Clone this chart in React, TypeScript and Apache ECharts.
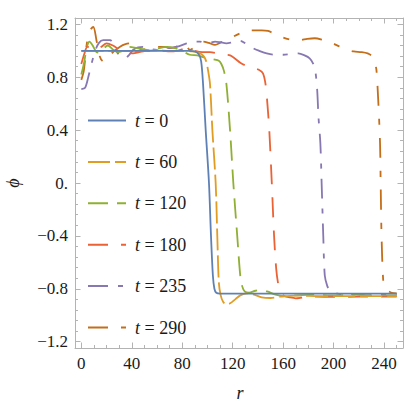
import React, { useEffect, useRef } from "react";
import * as echarts from "echarts";

// ---- data (r, phi) ----
const t0: [number, number][] = [
  [0, 1.0], [85, 1.0], [90, 0.995], [93, 0.975], [95, 0.92], [96.5, 0.75], [98.6, 0.4],
  [101.2, 0.0], [102.8, -0.4], [104.3, -0.7], [105.5, -0.8], [107, -0.83], [110, -0.837], [250, -0.837],
];
const t60: [number, number][] = [
  [0, 1.0], [20, 1.0], [30, 1.0], [40, 0.997], [50, 1.0], [60, 1.004], [70, 1.0], [80, 1.0],
  [88, 0.995], [93, 0.985], [97, 0.96], [99, 0.92], [100.5, 0.85], [102, 0.75], [103.9, 0.4],
  [106.5, 0.0], [107.8, -0.4], [109, -0.75], [110.5, -0.85], [112.5, -0.9], [115, -0.918],
  [118, -0.91], [122, -0.88], [126, -0.85], [131, -0.835], [137, -0.845], [143, -0.865],
  [150, -0.87], [158, -0.86], [170, -0.852], [190, -0.855], [220, -0.855], [250, -0.855],
];
const t120: [number, number][] = [
  [0, 0.82], [2, 0.9], [4.5, 1.03], [6.5, 1.07], [9, 1.04], [12, 0.99], [15, 0.985], [18, 1.02],
  [21, 1.04], [25, 1.01], [29, 0.99], [33, 1.0], [38, 1.03], [44, 1.02], [50, 1.01], [56, 1.0],
  [62, 1.02], [68, 1.03], [74, 1.02], [80, 1.0], [86, 0.97], [92, 0.965], [99, 0.945], [105, 0.935],
  [109, 0.925], [111, 0.9], [113, 0.85], [115, 0.75], [117.9, 0.4], [120.5, 0.0], [123.6, -0.4],
  [126, -0.7], [127.5, -0.78], [129.5, -0.82], [133, -0.83], [138, -0.815], [143, -0.81],
  [148, -0.822], [154, -0.845], [160, -0.855], [170, -0.85], [185, -0.845], [200, -0.85],
  [215, -0.845], [230, -0.85], [250, -0.85],
];
const t180: [number, number][] = [
  [0, 0.9], [2.5, 0.98], [4.8, 1.03], [8, 1.02], [12.2, 1.006], [16, 1.03], [20, 1.056], [25, 1.04],
  [30.7, 1.006], [36, 0.99], [41, 0.98], [46, 0.99], [52, 1.0], [58, 0.995], [64, 1.0], [70, 0.995],
  [76, 1.0], [84, 1.02], [90, 1.0], [96, 0.99], [102, 0.99], [108, 0.98], [114, 0.97], [118, 0.965],
  [122, 0.94], [126, 0.91], [130, 0.89], [136, 0.87], [141, 0.855], [144, 0.83], [146, 0.75],
  [147.5, 0.6], [149, 0.4], [151, 0.0], [152.8, -0.4], [154.5, -0.65], [156, -0.76], [158, -0.83],
  [161, -0.855], [165, -0.865], [170, -0.872], [176, -0.865], [185, -0.86], [200, -0.862],
  [220, -0.86], [250, -0.86],
];
const t235: [number, number][] = [
  [0, 0.71], [3, 0.72], [5.5, 0.8], [8.2, 0.905], [11, 1.0], [14, 1.06], [17.4, 1.08], [22.8, 1.08],
  [26, 1.04], [29, 0.98], [34.6, 0.943], [38, 0.97], [41, 1.006], [45, 1.025], [49, 1.03], [54, 1.015],
  [60, 1.006], [68, 1.02], [75.6, 1.03], [83.5, 1.056], [88, 1.07], [94, 1.07], [98, 1.06], [102, 1.06],
  [106, 1.07], [110, 1.065], [115, 1.056], [120, 1.065], [125.8, 1.076], [131, 1.05], [136, 1.02],
  [141, 1.0], [147, 0.98], [153, 0.97], [160, 0.97], [166, 0.975], [172, 0.98], [177, 0.965],
  [181, 0.943], [184, 0.9], [185.5, 0.85], [187, 0.7], [188, 0.5], [189.5, 0.3], [190.5, 0.0],
  [191.8, -0.4], [193, -0.7], [195, -0.78], [197, -0.81], [202, -0.835], [210, -0.845],
  [218, -0.84], [226, -0.85], [235, -0.845], [250, -0.845],
];
const t290: [number, number][] = [
  [0, 0.78], [2, 0.85], [4.3, 1.05], [6.5, 1.15], [9.5, 1.18], [12, 1.08], [14.5, 0.96], [17.4, 0.92],
  [20, 0.93], [24, 0.98], [30.7, 1.03], [35, 1.05], [40, 1.057], [44, 1.02], [46.5, 1.006], [50, 1.01],
  [54.5, 1.02], [62.4, 1.03], [66, 1.03], [70, 1.02], [75, 1.03], [81, 1.056], [84, 1.03], [86, 1.006],
  [90, 1.03], [96.7, 1.07], [101, 1.06], [106, 1.044], [111, 1.065], [115, 1.08], [121, 1.11],
  [128, 1.14], [133, 1.155], [138, 1.155], [143, 1.155], [148, 1.15], [153, 1.13], [160, 1.1],
  [166, 1.085], [173, 1.08], [179, 1.09], [185, 1.095], [192, 1.08], [198.5, 1.06], [204, 1.035],
  [210, 1.01], [216, 0.995], [222, 0.99], [227, 0.98], [231, 0.955], [233, 0.9], [234, 0.85],
  [235.5, 0.6], [236.8, 0.3], [237.3, 0.0], [238, -0.4], [239.4, -0.75], [241, -0.8], [242, -0.81],
  [246, -0.83], [250, -0.835],
];

const seriesNames = ["0", "60", "120", "180", "235", "290"];
const seriesData = [t0, t60, t120, t180, t235, t290];
const colors = ["#5E81B5", "#E19C24", "#8FB032", "#EB6235", "#8778B3", "#C56E1A"];
const dashes: (string | number[])[] = ["solid", [22, 5], [20, 9], [20, 13], [20, 10, 5, 10], [20, 13, 6, 13]];

const xMajor = [0, 40, 80, 120, 160, 200, 240];
const xMinor = [10, 20, 30, 50, 60, 70, 90, 100, 110, 130, 140, 150, 170, 180, 190, 210, 220, 230, 250];
const yMajor = [-1.2, -0.8, -0.4, 0, 0.4, 0.8, 1.2];
const yMajorLabels = ["\u22121.2", "\u22120.8", "\u22120.4", "0.", "0.4", "0.8", "1.2"];
const yMinor = [
  -1.12, -1.04, -0.96, -0.88, -0.72, -0.64, -0.56, -0.48, -0.32, -0.24, -0.16, -0.08,
  0.08, 0.16, 0.24, 0.32, 0.48, 0.56, 0.64, 0.72, 0.88, 0.96, 1.04, 1.12,
];

const FONT = "Liberation Serif";
const FRAME = "#b3b3b3";
const TXT = "#1a1a1a";

export default function App() {
  const ref = useRef<HTMLDivElement>(null);
  useEffect(() => {
    if (!ref.current) return;
    const chart = echarts.init(ref.current, undefined, { renderer: "svg" });
    const xMin = -5, xMax = 255, yMin = -1.248, yMax = 1.248;
    const xAx = (pos: string, major: boolean, labels: boolean) => ({
      type: "value", min: xMin, max: xMax, position: pos,
      axisLine: { show: major, onZero: false, lineStyle: { color: FRAME, width: 1 } },
      axisTick: { show: true, inside: true, length: major ? 5.5 : 3, customValues: major ? xMajor : xMinor, lineStyle: { color: FRAME } },
      axisLabel: labels
        ? { show: true, customValues: xMajor, color: TXT, fontFamily: FONT, fontSize: 17, margin: 7 }
        : { show: false },
      splitLine: { show: false },
    });
    const yAx = (pos: string, major: boolean, labels: boolean) => ({
      type: "value", min: yMin, max: yMax, position: pos,
      axisLine: { show: major, onZero: false, lineStyle: { color: FRAME, width: 1 } },
      axisTick: { show: true, inside: true, length: major ? 5.5 : 3, customValues: major ? yMajor : yMinor, lineStyle: { color: FRAME } },
      axisLabel: labels
        ? {
            show: true, customValues: yMajor, color: TXT, fontFamily: FONT, fontSize: 17, margin: 7,
            formatter: (v: number) => {
              const i = yMajor.findIndex((m) => Math.abs(m - v) < 1e-6);
              return i >= 0 ? yMajorLabels[i] : "";
            },
          }
        : { show: false },
      splitLine: { show: false },
    });
    chart.setOption({
      animation: false,
      textStyle: { fontFamily: FONT },
      grid: { left: 75, right: 5, top: 18, bottom: 61, containLabel: false },
      xAxis: [xAx("bottom", true, true), xAx("bottom", false, false), xAx("top", true, false), xAx("top", false, false)],
      yAxis: [yAx("left", true, true), yAx("left", false, false), yAx("right", true, false), yAx("right", false, false)],
      legend: {
        orient: "vertical", left: 82, top: 105.5, itemWidth: 38, itemHeight: 20, itemGap: 21.4,
        itemStyle: { opacity: 0 },
        data: seriesNames.map((n) => "t = " + n),
        formatter: (name: string) => "{i|t} = " + name.slice(4),
        textStyle: {
          fontFamily: FONT, fontSize: 18, color: TXT, lineHeight: 20, padding: [0, 0, 0, 4],
          rich: { i: { fontStyle: "italic", fontFamily: FONT, fontSize: 18, color: TXT, lineHeight: 20 } },
        },
      },
      graphic: [
        { type: "text", x: 13, y: 183, rotation: Math.PI / 2, style: { text: "\u03d5", fontFamily: FONT, fontStyle: "italic", fontSize: 18, fill: TXT, align: "center", verticalAlign: "middle" } },
        { type: "text", x: 240, y: 393, style: { text: "r", fontFamily: FONT, fontStyle: "italic", fontSize: 18, fill: TXT, align: "center", verticalAlign: "middle" } },
      ],
      series: seriesData.map((d, i) => ({
        name: "t = " + seriesNames[i],
        type: "line",
        data: d,
        xAxisIndex: 0, yAxisIndex: 0,
        showSymbol: false, symbol: "none",
        smooth: 0.3,
        color: colors[i],
        lineStyle: { color: colors[i], width: 1.8, type: dashes[i] },
        z: 10 - i,
      })),
    });
    return () => chart.dispose();
  }, []);
  return <div ref={ref} style={{ width: 408, height: 409, position: "absolute", left: 0, top: 0 }} />;
}
